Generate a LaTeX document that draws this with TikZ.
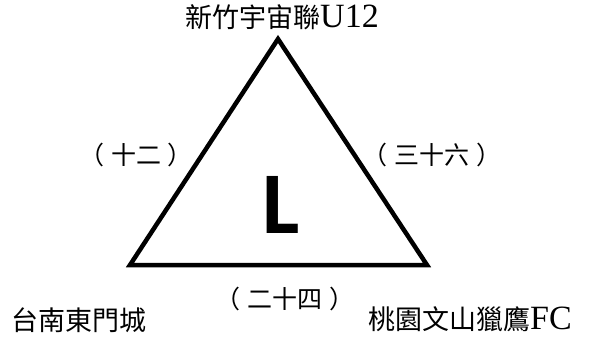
\documentclass[tikz,border=0pt]{standalone}
\usepackage{fontspec}
\setmainfont{Liberation Serif}
\newfontfamily\cjk{Noto Sans CJK TC}
\newfontfamily\bigsans{Carlito}
\newcommand{\lat}[1]{{\rmfamily\fontsize{34}{36}\selectfont #1}}
\newcommand{\gap}{\hspace{7pt}}
\begin{document}
\begin{tikzpicture}[x=1pt, y=-1pt,
    team/.style={inner sep=0pt, font=\cjk\fontsize{27}{30}\selectfont},
    score/.style={inner sep=0pt, font=\cjk\fontsize{25}{28}\selectfont},
    edge/.style={line width=4.5pt, line join=miter}]
  \useasboundingbox (0,0) rectangle (590,340);
  % triangle corners
  \coordinate (top) at (278,39);
  \coordinate (bl) at (130,265);
  \coordinate (br) at (427,265);
  \draw[edge] (top) -- (br) -- (bl) -- cycle;
  % group letter
  \node[inner sep=0pt, font=\bigsans\bfseries\fontsize{88}{90}\selectfont] (grp) at (281,205) {L};
  % teams
  \node[team] (hsinchu) at (282,17) {新竹宇宙聯\lat{U12}};
  \node[team] (tainan) at (79,320) {台南東門城};
  \node[team] (taoyuan) at (470,319) {桃園文山獵鷹\lat{FC}};
  % match numbers
  \node[score] (left) at (136,155) {（\gap 十二\gap ）};
  \node[score] (right) at (432,155) {（\gap 三十六\gap ）};
  \node[score] (bottom) at (285,299) {（\gap 二十四\gap ）};
\end{tikzpicture}
\end{document}
